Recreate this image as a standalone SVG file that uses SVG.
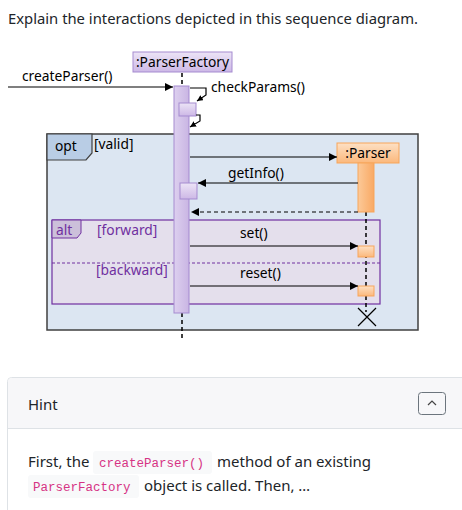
<svg xmlns="http://www.w3.org/2000/svg" width="462" height="510" viewBox="0 0 462 510">
<defs>
<linearGradient id="gPurple" x1="0" y1="0" x2="0" y2="1"><stop offset="0" stop-color="#ece4f6"/><stop offset="1" stop-color="#cdb8e6"/></linearGradient>
<linearGradient id="gBar" x1="0" y1="0" x2="1" y2="0"><stop offset="0" stop-color="#ddd0ef"/><stop offset="1" stop-color="#c9b5e3"/></linearGradient>
<linearGradient id="gOrange" x1="0" y1="0" x2="0" y2="1"><stop offset="0" stop-color="#fde0c4"/><stop offset="1" stop-color="#fbb87c"/></linearGradient>
<linearGradient id="gOrangeBar" x1="0" y1="0" x2="1" y2="0"><stop offset="0" stop-color="#fcc998"/><stop offset="1" stop-color="#f9a964"/></linearGradient>
<marker id="ah" viewBox="0 0 10 10" refX="10" refY="5" markerWidth="8" markerHeight="8" markerUnits="userSpaceOnUse" orient="auto"><path d="M0,0 L10,5 L0,10 z" fill="#000"/></marker>
<marker id="ahs" viewBox="0 0 10 10" refX="10" refY="5" markerWidth="6" markerHeight="6" markerUnits="userSpaceOnUse" orient="auto"><path d="M0,0 L10,5 L0,10 z" fill="#000"/></marker>
</defs>
<style>
.t{font-family:"Noto Sans","Liberation Sans",sans-serif;font-size:13.8px;fill:#000}
.pt{font-family:"Noto Sans","Liberation Sans",sans-serif;font-size:13.8px;fill:#7030a0}
.ui{font-family:"Noto Sans","Open Sans","Liberation Sans",sans-serif;font-size:15px;fill:#212529}
.code{font-family:"Liberation Mono","DejaVu Sans Mono",monospace;font-size:12.5px;fill:#d63384}
.msg{stroke:#000;stroke-width:1.2;fill:none}
.life{stroke:#000;stroke-width:1.5;stroke-dasharray:4,3;fill:none}
</style>
<rect width="462" height="510" fill="#fff"/>
<text class="ui" x="8" y="24" textLength="410" lengthAdjust="spacingAndGlyphs" fill="#333">Explain the interactions depicted in this sequence diagram.</text>

<g id="opt-frame">
<rect x="47" y="134" width="371" height="196" fill="#dce6f2" stroke="#404040" stroke-width="1.5"/>
<path d="M47,134 H92 V153 L86,160 H47 Z" fill="#b9cde5" stroke="#404040" stroke-width="1.2"/>
<text class="t" x="55" y="151">opt</text>
<text class="t" x="94" y="149">[valid]</text>
</g>

<g id="alt-frame">
<rect x="52" y="220" width="328" height="84" fill="#e4dfec" stroke="#7030a0" stroke-width="1.2"/>
<path d="M52,220 H81 V233 L77,238 H52 Z" fill="#ccc0da" stroke="#7030a0" stroke-width="1"/>
<text class="pt" x="56" y="235">alt</text>
<text class="pt" x="97" y="235">[forward]</text>
<line x1="52" y1="263" x2="380" y2="263" stroke="#7030a0" stroke-width="1" stroke-dasharray="3,2"/>
<text class="pt" x="96" y="275">[backward]</text>
</g>

<g id="lifelines">
<line class="life" x1="182" y1="73" x2="182" y2="86"/>
<line class="life" x1="182" y1="313" x2="182" y2="340"/>
<line class="life" x1="366" y1="212" x2="366" y2="312"/>
</g>

<g id="ParserFactory">
<rect x="133" y="52" width="99" height="20" fill="url(#gPurple)" stroke="#a58bd0" stroke-width="1"/>
<text class="t" x="182.5" y="67" text-anchor="middle">:ParserFactory</text>
<rect x="174" y="86" width="15" height="227" fill="url(#gBar)" stroke="#a58bd0" stroke-width="1"/>
<rect x="179" y="103" width="17" height="13" fill="url(#gPurple)" stroke="#a58bd0" stroke-width="1"/>
<rect x="180" y="183" width="17" height="16" fill="url(#gPurple)" stroke="#a58bd0" stroke-width="1"/>
</g>

<g id="Parser">
<rect x="337" y="143" width="62" height="20" fill="url(#gOrange)" stroke="#f7a55a" stroke-width="1"/>
<text class="t" x="368" y="158" text-anchor="middle">:Parser</text>
<rect x="358" y="163" width="16" height="49" fill="url(#gOrangeBar)" stroke="#f7a55a" stroke-width="1"/>
<rect x="358" y="246" width="16" height="11" fill="url(#gOrange)" stroke="#f7a55a" stroke-width="1"/>
<rect x="358" y="286" width="16" height="10" fill="url(#gOrange)" stroke="#f7a55a" stroke-width="1"/>
<path d="M358,308 L376,326 M376,308 L358,326" stroke="#000" stroke-width="1.2"/>
</g>

<g id="connectors">
<line class="msg" x1="8" y1="87" x2="173" y2="87" marker-end="url(#ah)"/>
<text class="t" x="22" y="81">createParser()</text>
<path class="msg" d="M190,88 H206 V95 L197,101" marker-end="url(#ahs)"/>
<text class="t" x="211" y="92">checkParams()</text>
<path class="msg" d="M196,115 H200 V121 L190,127" marker-end="url(#ahs)"/>
<line class="msg" x1="190" y1="157" x2="337" y2="157" marker-end="url(#ah)"/>
<line class="msg" x1="358" y1="183" x2="198" y2="183" marker-end="url(#ah)"/>
<text class="t" x="228" y="178">getInfo()</text>
<line class="msg" x1="358" y1="212" x2="191" y2="212" stroke-dasharray="4,3" marker-end="url(#ah)"/>
<line class="msg" x1="190" y1="246" x2="358" y2="246" marker-end="url(#ah)"/>
<text class="t" x="240" y="238">set()</text>
<line class="msg" x1="190" y1="286" x2="358" y2="286" marker-end="url(#ah)"/>
<text class="t" x="240" y="278">reset()</text>
</g>

<g id="hint-panel">
<rect x="7.5" y="377.5" width="460" height="140" rx="4" fill="#fff" stroke="#dee2e6"/>
<path d="M8,428 V382 a4,4 0 0 1 4,-4 H462 V428 Z" fill="#f7f7f9"/>
<line x1="8" y1="428.5" x2="462" y2="428.5" stroke="#dee2e6"/>
<text class="ui" x="28" y="410">Hint</text>
<rect x="418.5" y="392.5" width="27" height="22" rx="3" fill="none" stroke="#6c757d"/>
<path d="M428,405 L432,401 L436,405" fill="none" stroke="#444" stroke-width="1.2"/>
<text class="ui" x="28" y="467">First, the</text>
<rect x="93" y="451" width="119" height="23" rx="3" fill="#f8f9fa"/>
<text class="code" x="99" y="467">createParser()</text>
<text class="ui" x="217" y="467">method of an existing</text>
<rect x="28" y="475" width="111" height="23" rx="3" fill="#f8f9fa"/>
<text class="code" x="33" y="491">ParserFactory</text>
<text class="ui" x="144" y="491">object is called. Then, …</text>
</g>
</svg>
